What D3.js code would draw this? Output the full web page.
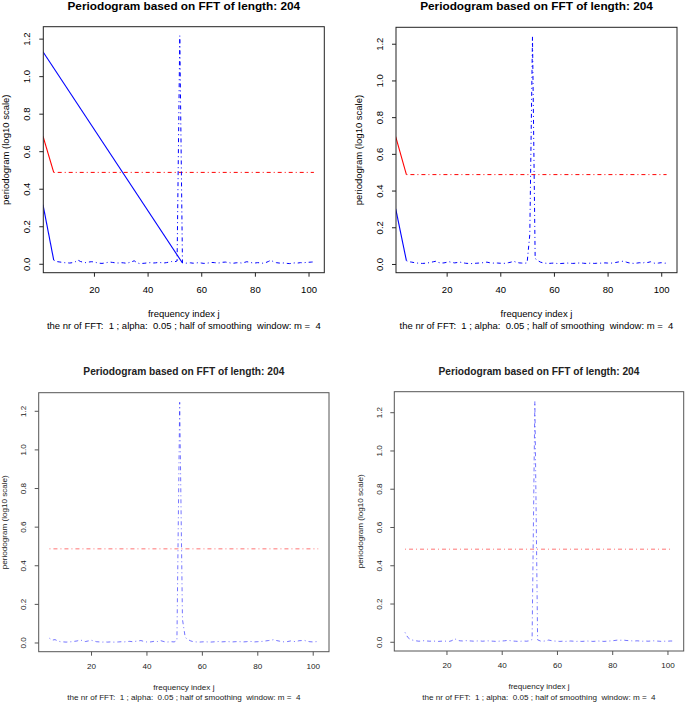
<!DOCTYPE html>
<html>
<head>
<meta charset="utf-8">
<script src="https://cdn.jsdelivr.net/npm/d3@7"></script>
<style>
  body { margin: 0; background: #fff; }
  svg text { font-family: "Liberation Sans", Arial, sans-serif; white-space: pre; }
</style>
</head>
<body>
<div id="chart"></div>
<script>
// frequency index j and tick values
var freqIndex = d3.range(5, 103);
var xTicks = [20, 40, 60, 80, 100];
var yTicks = [0, 0.2, 0.4, 0.6, 0.8, 1.0, 1.2];

var titleText = "Periodogram based on FFT of length: 204";
var xTitleText = "frequency index j";
var yTitleText = "periodogram (log10 scale)";
var subText = "the nr of FFT:  1 ; alpha:  0.05 ; half of smoothing  window: m =  4";

// log10 periodogram values, j = 5..102
var pgramA = [
  0.020, 0.012, 0.010, 0.008, 0.006, 0.005, 0.004, 0.006, 0.010, 0.020,
  0.012, 0.008, 0.006, 0.009, 0.011, 0.010, 0.006, 0.003, 0.002, 0.004,
  0.007, 0.009, 0.007, 0.005, 0.004, 0.006, 0.005, 0.003, 0.006, 0.010,
  0.016, 0.006, 0.001, 0.002, 0.003, 0.005, 0.006, 0.004, 0.005, 0.007,
  0.006, 0.004, 0.006, 0.009, 0.012, 0.010, 0.015, 1.215, 0.004, 0.003,
  0.004, 0.005, 0.003, 0.004, 0.006, 0.004, 0.002, 0.003, 0.005, 0.007,
  0.006, 0.004, 0.005, 0.008, 0.009, 0.007, 0.004, 0.003, 0.005, 0.006,
  0.004, 0.007, 0.011, 0.008, 0.005, 0.004, 0.006, 0.005, 0.003, 0.006,
  0.012, 0.019, 0.010, 0.006, 0.004, 0.003, 0.005, 0.002, 0.001, 0.003,
  0.005, 0.004, 0.006, 0.005, 0.007, 0.008, 0.009, 0.010
];
var pgramB = [
  0.018, 0.012, 0.010, 0.007, 0.005, 0.004, 0.003, 0.004, 0.006, 0.008,
  0.012, 0.015, 0.008, 0.005, 0.006, 0.009, 0.012, 0.008, 0.006, 0.008,
  0.010, 0.007, 0.004, 0.003, 0.002, 0.003, 0.004, 0.005, 0.006, 0.008,
  0.010, 0.007, 0.004, 0.006, 0.005, 0.004, 0.003, 0.004, 0.007, 0.010,
  0.015, 0.009, 0.006, 0.005, 0.004, 0.006, 0.160, 1.240, 0.030, 0.018,
  0.010, 0.006, 0.004, 0.003, 0.004, 0.005, 0.003, 0.002, 0.003, 0.004,
  0.005, 0.004, 0.003, 0.004, 0.005, 0.006, 0.004, 0.003, 0.004, 0.005,
  0.003, 0.004, 0.005, 0.004, 0.006, 0.005, 0.004, 0.006, 0.008, 0.011,
  0.013, 0.016, 0.010, 0.006, 0.004, 0.003, 0.005, 0.007, 0.004, 0.010,
  0.008, 0.012, 0.006, 0.003, 0.005, 0.007, 0.004, 0.005
];
var pgramC = [
  0.022, 0.012, 0.015, 0.008, 0.004, 0.003, 0.002, 0.003, 0.004, 0.006,
  0.008, 0.014, 0.009, 0.005, 0.008, 0.012, 0.008, 0.004, 0.003, 0.002,
  0.003, 0.002, 0.003, 0.002, 0.002, 0.003, 0.004, 0.003, 0.005, 0.006,
  0.004, 0.006, 0.008, 0.010, 0.006, 0.003, 0.002, 0.004, 0.007, 0.005,
  0.010, 0.006, 0.002, 0.003, 0.004, 0.003, 0.010, 1.244, 0.120, 0.026,
  0.015, 0.008, 0.004, 0.003, 0.002, 0.003, 0.004, 0.003, 0.002, 0.003,
  0.004, 0.005, 0.003, 0.004, 0.005, 0.004, 0.003, 0.004, 0.005, 0.004,
  0.003, 0.004, 0.006, 0.005, 0.003, 0.004, 0.005, 0.006, 0.008, 0.010,
  0.012, 0.015, 0.010, 0.007, 0.004, 0.003, 0.005, 0.008, 0.006, 0.004,
  0.009, 0.010, 0.011, 0.006, 0.004, 0.003, 0.004, 0.005
];
var pgramD = [
  0.049, 0.023, 0.011, 0.008, 0.005, 0.003, 0.004, 0.006, 0.004, 0.003,
  0.004, 0.003, 0.002, 0.003, 0.004, 0.003, 0.002, 0.006, 0.016, 0.007,
  0.005, 0.004, 0.006, 0.005, 0.004, 0.003, 0.004, 0.005, 0.003, 0.004,
  0.005, 0.004, 0.003, 0.002, 0.003, 0.004, 0.005, 0.007, 0.006, 0.004,
  0.003, 0.002, 0.003, 0.004, 0.003, 0.005, 0.012, 1.257, 0.010, 0.004,
  0.003, 0.005, 0.009, 0.006, 0.004, 0.003, 0.002, 0.003, 0.002, 0.003,
  0.004, 0.003, 0.002, 0.003, 0.002, 0.003, 0.004, 0.003, 0.002, 0.003,
  0.004, 0.003, 0.002, 0.003, 0.004, 0.005, 0.007, 0.009, 0.008, 0.009,
  0.007, 0.006, 0.005, 0.004, 0.005, 0.004, 0.003, 0.004, 0.003, 0.004,
  0.005, 0.004, 0.003, 0.002, 0.003, 0.003, 0.004, 0.004
];

// significance thresholds (red)
var thrA = 0.487, thrB = 0.487, thrC = 0.485, thrD = 0.484;

// extra solid segments drawn in the top two plots [j, value]
var redLeadA = [[1, 0.680], [5, 0.487]];
var blueLeadA = [[1, 0.315], [5, 0.020]];
var blueDiagA = [[1, 1.130], [53, 0.004]];
var redLeadB = [[1, 0.694], [5, 0.487]];
var blueLeadB = [[1, 0.301], [5, 0.018]];

var svg = d3.select("#chart").append("svg")
  .attr("width", 685)
  .attr("height", 702);

var topStyle = {fs: 9.5, titleFs: 11.8, titleY: 6.2, ink: "#000", frame: "#222", alpha: 1,
  xLab: 17.3, xTitle: 40.6, sub: 53, yLab: 16.3, yTitle: 37.5};
var botStyle = {fs: 8.1, titleFs: 10.2, titleY: 371.7, ink: "#222", frame: "#555", alpha: 0.55,
  xLab: 14.3, xTitle: 35, sub: 45.6, yLab: 15.4, yTitle: 34.5};

var panels = [
  {pgram: pgramA, thr: thrA, solid: [[redLeadA, "red"], [blueLeadA, "blue"], [blueDiagA, "blue"]],
   box: {left: 43.3, right: 324.3, top: 26.7, bottom: 272.7}, st: topStyle},
  {pgram: pgramB, thr: thrB, solid: [[redLeadB, "red"], [blueLeadB, "blue"]],
   box: {left: 396, right: 677, top: 27.3, bottom: 272.7}, st: topStyle},
  {pgram: pgramC, thr: thrC, solid: [],
   box: {left: 38.7, right: 329, top: 392.7, bottom: 651.7}, st: botStyle},
  {pgram: pgramD, thr: thrD, solid: [],
   box: {left: 394.3, right: 683.7, top: 391.7, bottom: 651}, st: botStyle}
];

function label(g, x, y, str, size, color, opts) {
  opts = opts || {};
  var t = g.append("text")
    .attr("x", x).attr("y", y)
    .attr("dy", "0.36em")
    .attr("text-anchor", "middle")
    .attr("font-size", size)
    .attr("fill", color)
    .text(str);
  if (opts.bold) t.attr("font-weight", "bold");
  if (opts.rotate) {
    t.attr("x", 0).attr("y", 0)
     .attr("transform", "translate(" + x + "," + y + ") rotate(-90)");
  }
  return t;
}

panels.forEach(function(p, i) {
  var b = p.box, st = p.st;
  var g = svg.append("g");

  // R style 4% padding around the data range
  var xr = d3.extent(freqIndex), xpad = (xr[1] - xr[0]) * 0.04;
  var x = d3.scaleLinear().domain([xr[0] - xpad, xr[1] + xpad]).range([b.left, b.right]);
  var yr = d3.extent(p.pgram), ypad = (yr[1] - yr[0]) * 0.04;
  var y = d3.scaleLinear().domain([yr[0] - ypad, yr[1] + ypad]).range([b.bottom, b.top]);

  g.append("clipPath").attr("id", "clip" + i)
    .append("rect")
    .attr("x", b.left).attr("y", b.top)
    .attr("width", b.right - b.left).attr("height", b.bottom - b.top);

  var line = d3.line().x(function(d) { return x(d[0]); }).y(function(d) { return y(d[1]); });
  var plot = g.append("g").attr("clip-path", "url(#clip" + i + ")");

  // threshold
  plot.append("path")
    .datum([[freqIndex[0], p.thr], [freqIndex[freqIndex.length - 1], p.thr]])
    .attr("fill", "none")
    .attr("stroke", "red")
    .attr("stroke-opacity", st.alpha)
    .attr("stroke-dasharray", "1,3,4,3")
    .attr("d", line);

  // periodogram
  plot.append("path")
    .datum(freqIndex.map(function(j, k) { return [j, p.pgram[k]]; }))
    .attr("fill", "none")
    .attr("stroke", "blue")
    .attr("stroke-opacity", st.alpha)
    .attr("stroke-dasharray", "1,3,4,3")
    .attr("d", line);

  p.solid.forEach(function(s) {
    plot.append("path")
      .datum(s[0])
      .attr("fill", "none")
      .attr("stroke", s[1])
      .attr("stroke-width", 1.1)
      .attr("d", line);
  });

  // frame
  g.append("rect")
    .attr("x", b.left).attr("y", b.top)
    .attr("width", b.right - b.left).attr("height", b.bottom - b.top)
    .attr("fill", "none")
    .attr("stroke", st.frame);

  // x axis
  var xa = g.append("g")
    .attr("transform", "translate(0," + b.bottom + ")")
    .call(d3.axisBottom(x).tickValues(xTicks).tickSize(4).tickFormat(d3.format("d")));
  xa.select(".domain").remove();
  xa.selectAll("line").attr("stroke", st.frame);
  xa.selectAll("text")
    .attr("y", st.xLab).attr("dy", "0.36em")
    .attr("font-size", st.fs).attr("fill", st.ink);
  xa.attr("font-family", null);

  // y axis
  var ya = g.append("g")
    .attr("transform", "translate(" + b.left + ",0)")
    .call(d3.axisLeft(y).tickValues(yTicks).tickSize(4).tickFormat(d3.format(".1f")));
  ya.select(".domain").remove();
  ya.selectAll("line").attr("stroke", st.frame);
  ya.selectAll("text")
    .attr("x", 0).attr("dy", "0.36em")
    .attr("text-anchor", "middle")
    .attr("transform", "translate(" + (-st.yLab) + ",0) rotate(-90)")
    .attr("font-size", st.fs).attr("fill", st.ink);
  ya.attr("font-family", null);

  var cx = (b.left + b.right) / 2, cy = (b.top + b.bottom) / 2;
  label(g, cx, st.titleY, titleText, st.titleFs, st.ink, {bold: true});
  label(g, cx, b.bottom + st.xTitle, xTitleText, st.fs, st.ink);
  label(g, cx, b.bottom + st.sub, subText, st.fs, st.ink);
  label(g, b.left - st.yTitle, cy, yTitleText, st.fs, st.ink, {rotate: true});
});
</script>
</body>
</html>
